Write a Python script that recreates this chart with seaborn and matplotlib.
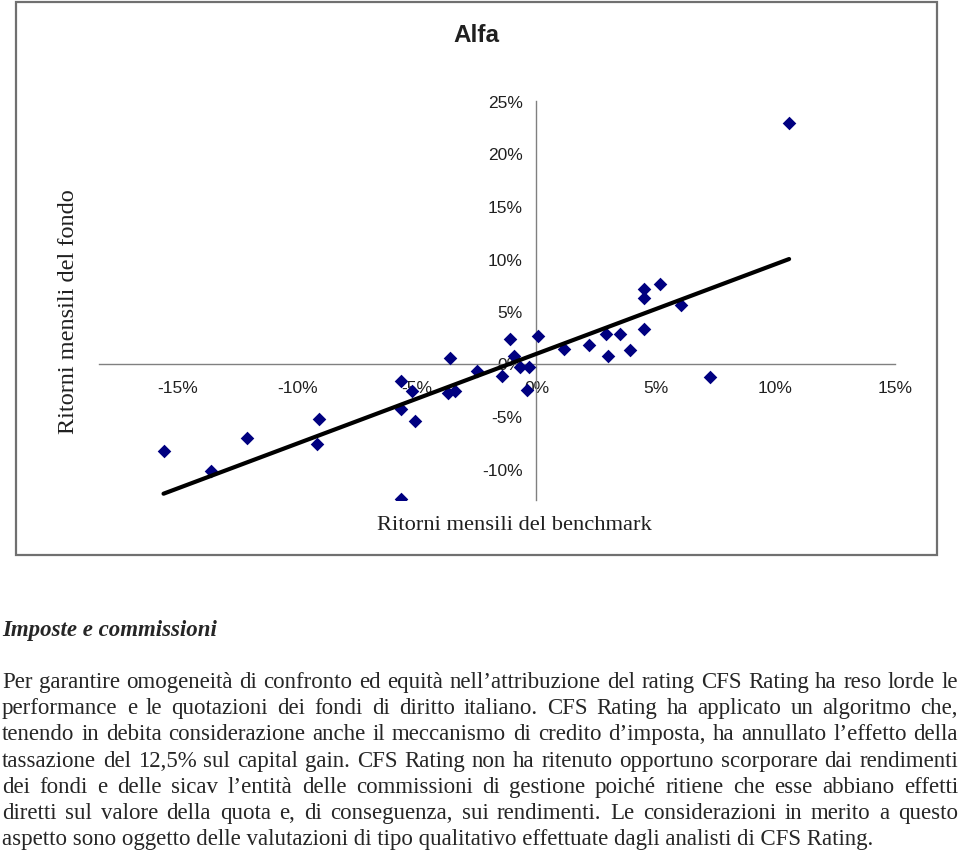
import numpy as np
import pandas as pd
import seaborn as sns
import matplotlib.pyplot as plt
from matplotlib.patches import Rectangle
from matplotlib.ticker import FuncFormatter

# ritorni mensili (%)
benchmark = [-15.6, -13.6, -12.1, -9.1, -9.2, -5.65, -5.65, -5.2, -5.1, -5.65,
             -3.6, -3.7, -3.4, -2.5, -1.43, -1.09, -0.95, -0.67, -0.32, -0.39,
             0.05, 1.14, 2.19, 2.9, 2.98, 3.48, 3.93, 4.49, 4.49, 4.49,
             5.18, 6.06, 7.27, 10.57]
fondo = [-8.3, -10.2, -7.1, -5.3, -7.7, -1.65, -4.3, -2.6, -5.5, -12.9,
         0.55, -2.8, -2.6, -0.75, -1.15, 2.3, 0.75, -0.35, -0.3, -2.5,
         2.6, 1.4, 1.8, 2.8, 0.67, 2.84, 1.25, 7.07, 6.25, 3.3,
         7.6, 5.55, -1.3, 22.9]
x_ticks = [-15, -10, -5, 0, 5, 10, 15]
y_ticks = [-10, -5, 0, 5, 10, 15, 20, 25]

titolo = "Alfa"
label_x = "Ritorni mensili del benchmark"
label_y = "Ritorni mensili del fondo"
heading = "Imposte e commissioni"
paragrafo = [
    "Per garantire omogeneità di confronto ed equità nell’attribuzione del rating CFS Rating ha reso lorde le",
    "performance e le quotazioni dei fondi di diritto italiano. CFS Rating ha applicato un algoritmo che,",
    "tenendo in debita considerazione anche il meccanismo di credito d’imposta, ha annullato l’effetto della",
    "tassazione del 12,5% sul capital gain. CFS Rating non ha ritenuto opportuno scorporare dai rendimenti",
    "dei fondi e delle sicav l’entità delle commissioni di gestione poiché ritiene che esse abbiano effetti",
    "diretti sul valore della quota e, di conseguenza, sui rendimenti. Le considerazioni in merito a questo",
    "aspetto sono oggetto delle valutazioni di tipo qualitativo effettuate dagli analisti di CFS Rating.",
]

df = pd.DataFrame({"benchmark": benchmark, "fondo": fondo})

sns.set_style("white")
plt.rcParams["font.family"] = ["Liberation Sans", "DejaVu Sans"]

W, H = 960, 853
fig = plt.figure(figsize=(W / 100, H / 100), dpi=100)

# cornice del grafico
fig.patches.append(Rectangle((16 / W, 1 - 556 / H), 921 / W, 553 / H,
                             transform=fig.transFigure, fill=False,
                             edgecolor="#707070", linewidth=1.6))

ax = fig.add_axes([99 / W, 1 - 501 / H, (895 - 99) / W, (501 - 102) / H])
ax.set_facecolor("none")

sns.scatterplot(data=df, x="benchmark", y="fondo", marker="D", s=48,
                color="#000080", edgecolor="#000080", linewidth=0, ax=ax, zorder=3)
sns.regplot(data=df, x="benchmark", y="fondo", scatter=False, ci=None,
            truncate=True, color="black", line_kws={"linewidth": 3, "zorder": 4}, ax=ax)

ax.set_xlim(-18.3, 15)
ax.set_ylim(-13, 25)
ax.set_xticks(x_ticks)
ax.set_yticks(y_ticks)
ax.xaxis.set_major_formatter(FuncFormatter(lambda v, p: f"{v:.0f}%"))
ax.yaxis.set_major_formatter(FuncFormatter(lambda v, p: f"{v:.0f}%"))
ax.set_xlabel("")
ax.set_ylabel("")

ax.spines["left"].set_position(("data", 0))
ax.spines["bottom"].set_position(("data", 0))
ax.spines["top"].set_visible(False)
ax.spines["right"].set_visible(False)
for s in ["left", "bottom"]:
    ax.spines[s].set_color("#808080")
    ax.spines[s].set_linewidth(1.0)
ax.tick_params(axis="both", direction="out", length=4, width=1, color="#808080",
               labelsize=12.5, labelcolor="#202020")
ax.tick_params(axis="x", pad=8)
ax.tick_params(axis="y", pad=6)

fig.text(476 / W, 1 - 36 / H, titolo, ha="center", va="center",
         fontsize=17.5, fontweight="bold", family="Liberation Sans", color="#202020")
fig.text(514 / W, 1 - 526 / H, label_x, ha="center", va="center",
         fontsize=16.2, family="Liberation Serif", color="#202020")
fig.text(68 / W, 1 - 312 / H, label_y, ha="center", va="center", rotation=90,
         fontsize=17.5, family="Liberation Serif", color="#202020")

# testo sotto il grafico
fig.text(2 / W, 1 - 636 / H, heading, ha="left", va="baseline", fontsize=16.5,
         family="Liberation Serif", fontstyle="italic", fontweight="bold")

renderer = fig.canvas.get_renderer()
righe_y = [688, 714, 740, 767, 793, 819, 845]
x_sx, x_dx = 2, 958
fs = 16.5
for i, (riga, yy) in enumerate(zip(paragrafo, righe_y)):
    if i == len(paragrafo) - 1:
        fig.text(x_sx / W, 1 - yy / H, riga, ha="left", va="baseline",
                 fontsize=fs, family="Liberation Serif")
        continue
    parole = riga.split(" ")
    oggetti = [fig.text(0, 1 - yy / H, p, ha="left", va="baseline",
                        fontsize=fs, family="Liberation Serif") for p in parole]
    larghezze = [t.get_window_extent(renderer).width for t in oggetti]
    gap = (x_dx - x_sx - sum(larghezze)) / (len(parole) - 1)
    xpos = x_sx
    for t, w in zip(oggetti, larghezze):
        t.set_x(xpos / W)
        xpos += w + gap

fig.savefig("out.png", dpi=100)
